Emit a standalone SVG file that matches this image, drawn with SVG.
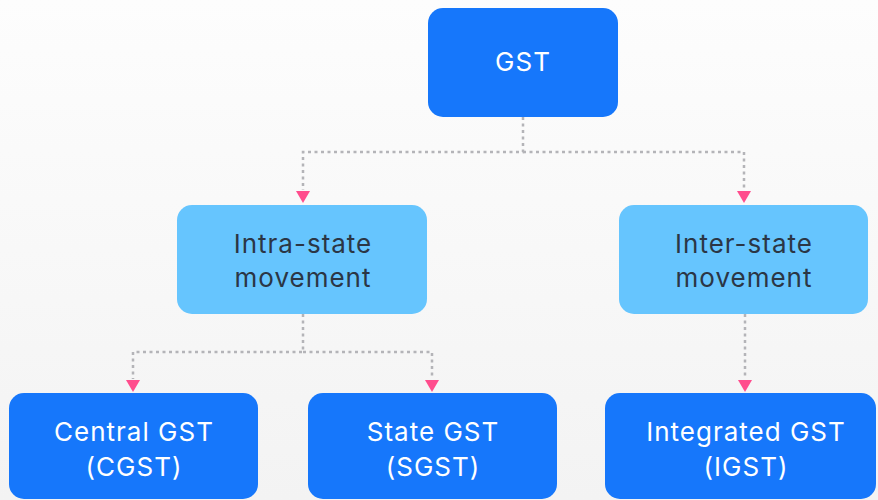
<svg xmlns="http://www.w3.org/2000/svg" width="878" height="500" viewBox="0 0 878 500">
<defs>
<linearGradient id="bg" x1="0" y1="0" x2="0" y2="1">
<stop offset="0" stop-color="#fdfdfd"/>
<stop offset="1" stop-color="#f3f3f3"/>
</linearGradient>
<style>
.dark{fill:#1677fb;}
.light{fill:#66c5fe;}
.tw{font-family:Inter,"Liberation Sans",sans-serif;font-size:26px;letter-spacing:1px;fill:#ffffff;text-anchor:middle;}
.td{font-family:Inter,"Liberation Sans",sans-serif;font-size:26px;letter-spacing:1px;fill:#2b3645;text-anchor:middle;}
.conn{fill:none;stroke:#b4b4b8;stroke-width:2.5;stroke-dasharray:3 3.5;}
.arrow{fill:#ff4d8d;}
</style>
</defs>
<rect x="0" y="0" width="878" height="500" fill="url(#bg)"/>
<g id="connectors">
<path class="conn" d="M523,117 V152 H303 V190"/>
<path class="conn" d="M523,152 H744 V190"/>
<path class="conn" d="M303,314 V352 H133 V379"/>
<path class="conn" d="M303,352 H432 V379"/>
<path class="conn" d="M745,314 V379"/>
<path class="arrow" d="M296,191 L310,191 L303,203 Z"/>
<path class="arrow" d="M737,191 L751,191 L744,203 Z"/>
<path class="arrow" d="M126,380 L140,380 L133,392 Z"/>
<path class="arrow" d="M425,380 L439,380 L432,392 Z"/>
<path class="arrow" d="M738,380 L752,380 L745,392 Z"/>
</g>
<g id="gst">
<rect class="dark" x="428" y="8" width="190" height="109" rx="15"/>
<text class="tw" x="523" y="71">GST</text>
</g>
<g id="intra">
<rect class="light" x="177" y="205" width="250" height="109" rx="15"/>
<text class="td" x="303" y="253">Intra-state</text>
<text class="td" x="303" y="287">movement</text>
</g>
<g id="inter">
<rect class="light" x="619" y="205" width="249" height="109" rx="15"/>
<text class="td" x="744" y="253">Inter-state</text>
<text class="td" x="744" y="287">movement</text>
</g>
<g id="cgst">
<rect class="dark" x="9" y="393" width="249" height="106" rx="15"/>
<text class="tw" x="134" y="441">Central GST</text>
<text class="tw" x="134" y="476">(CGST)</text>
</g>
<g id="sgst">
<rect class="dark" x="308" y="393" width="249" height="106" rx="15"/>
<text class="tw" x="433" y="441">State GST</text>
<text class="tw" x="433" y="476">(SGST)</text>
</g>
<g id="igst">
<rect class="dark" x="605" y="393" width="271" height="106" rx="15"/>
<text class="tw" x="746" y="441">Integrated GST</text>
<text class="tw" x="746" y="476">(IGST)</text>
</g>
</svg>
